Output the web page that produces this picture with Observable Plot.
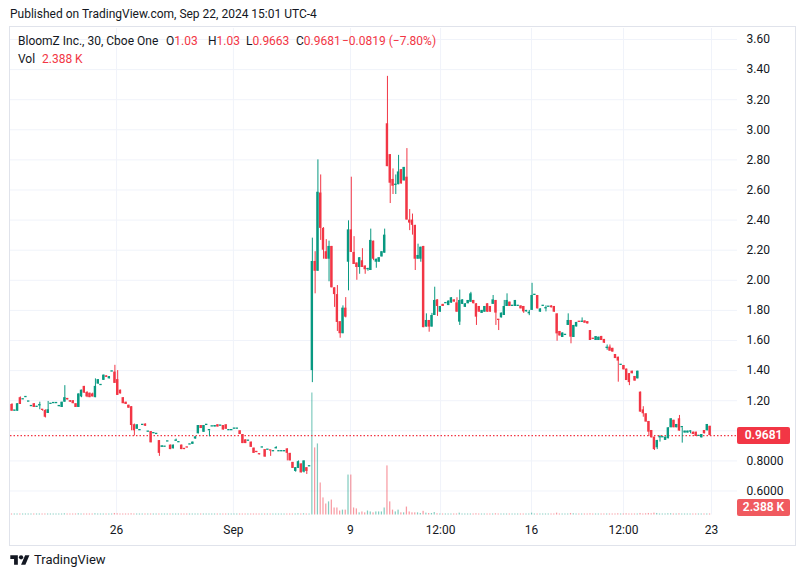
<!DOCTYPE html>
<html>
<head>
<meta charset="utf-8">
<script src="https://cdn.jsdelivr.net/npm/d3@7"></script>
<script src="https://cdn.jsdelivr.net/npm/@observablehq/plot@0.6"></script>
<style>
html,body{margin:0;padding:0;background:#fff;}
#wrap{position:relative;width:804px;height:578px;overflow:hidden;font-family:Roboto,"Noto Sans",sans-serif;color:#131722;}
#pub{position:absolute;left:10px;top:6px;font-size:12px;line-height:16px;white-space:nowrap;}
#frame{position:absolute;left:9px;top:26px;width:787px;height:520px;border:1px solid #e0e3eb;box-sizing:border-box;}
#chart{position:absolute;left:0;top:27px;}
.leg{position:absolute;font-size:12px;line-height:16px;white-space:nowrap;}
.r{color:#f23645;}
.badge{position:absolute;height:17px;line-height:17px;color:#fff;font-size:12px;font-weight:600;text-align:center;border-radius:2px;}
#foot{position:absolute;left:10px;top:552px;font-size:13px;line-height:16px;display:flex;align-items:center;gap:4px;white-space:nowrap;}
</style>
</head>
<body>
<div id="wrap">
  <div id="pub">Published on TradingView.com, Sep 22, 2024 15:01 UTC-4</div>
  <div id="frame"></div>
  <div id="chart"></div>
  <div class="leg" style="left:18px;top:33px">BloomZ Inc., 30, Cboe One</div>
  <div class="leg" style="left:166px;top:33px">O<span class="r">1.03</span></div>
  <div class="leg" style="left:208px;top:33px">H<span class="r">1.03</span></div>
  <div class="leg" style="left:246px;top:33px">L<span class="r">0.9663</span></div>
  <div class="leg" style="left:296px;top:33px">C<span class="r">0.9681</span></div>
  <div class="leg r" style="left:342px;top:33px">−0.0819 (−7.80%)</div>
  <div class="leg" style="left:18px;top:51px">Vol</div>
  <div class="leg r" style="left:42px;top:51px">2.388 K</div>
  <div id="foot">
    <svg width="20" height="14" viewBox="0 0 36 26"><path d="M14 22H7V11H0V4h14z" fill="#131722"/><circle cx="20" cy="8" r="4" fill="#131722"/><path d="M28 22h-8l7.5-18h8z" fill="#131722"/></svg>
    <span>TradingView</span>
  </div>
</div>
<script>
// ---- data (30-min bars, BloomZ Inc.) ----
const open = [
1.175,1.13,1.13,1.22,1.205,1.22,1.19,1.16,1.18,1.155,
1.165,1.14,1.135,1.115,1.175,1.18,1.18,1.16,1.155,1.19,
1.215,1.20,1.20,1.18,1.155,1.225,1.295,1.255,1.25,1.245,
1.22,1.31,1.30,1.335,1.365,1.345,1.39,1.39,1.34,1.27,
1.22,1.19,1.17,1.16,1.04,1.01,1.00,1.035,1.045,0.99,
0.995,0.98,0.975,0.935,0.89,0.89,0.925,0.905,0.88,0.93,
0.92,0.905,0.877,0.887,0.905,0.91,0.945,0.98,1.035,0.99,
1.035,1.00,1.025,1.025,1.04,1.03,1.035,1.04,1.00,1.00,
1.01,1.01,1.00,0.975,0.94,0.93,0.925,0.885,0.857,0.842,
0.885,0.875,0.87,0.867,0.86,0.88,0.86,0.86,0.86,0.88,
0.85,0.79,0.73,0.75,0.78,0.725,0.755,0.76,1.40,2.125,
2.06,2.58,2.345,2.19,2.14,2.225,1.95,1.905,1.725,1.645,
1.815,2.12,2.335,2.185,2.115,2.085,2.13,2.095,2.07,2.065,
2.26,2.12,2.12,2.155,2.18,3.04,2.835,2.67,2.63,2.635,
2.735,2.66,2.685,2.40,2.40,2.365,2.14,2.14,2.225,1.689,
1.733,1.689,1.766,1.870,1.788,1.840,1.844,1.832,1.848,1.870,
1.850,1.722,1.84,1.82,1.844,1.854,1.866,1.844,1.826,1.78,
1.788,1.844,1.826,1.840,1.866,1.735,1.750,1.766,1.826,1.855,
1.826,1.826,1.826,1.830,1.826,1.79,1.777,1.80,1.899,1.899,
1.788,1.826,1.810,1.82,1.830,1.826,1.777,1.66,1.62,1.633,
1.70,1.733,1.62,1.69,1.722,1.72,1.73,1.725,1.666,1.609,
1.60,1.60,1.627,1.607,1.547,1.556,1.548,1.507,1.489,1.434,
1.434,1.41,1.38,1.396,1.361,1.345,1.257,1.139,1.113,1.062,
1.002,0.958,0.887,0.953,0.953,0.936,0.947,1.020,1.070,1.020,
1.080,1.020,0.985,0.985,0.991,0.991,0.991,0.962,0.953,1.002,1.000,1.03];
const high = [
1.18,1.135,1.18,1.225,1.205,1.22,1.19,1.16,1.18,1.155,
1.19,1.14,1.14,1.195,1.175,1.18,1.18,1.165,1.19,1.30,
1.215,1.20,1.20,1.18,1.245,1.27,1.295,1.26,1.25,1.25,
1.345,1.34,1.30,1.37,1.365,1.36,1.39,1.435,1.40,1.27,
1.22,1.19,1.17,1.16,1.045,1.04,1.00,1.035,1.045,0.99,
0.995,0.98,0.975,0.935,0.90,0.89,0.925,0.905,0.905,0.945,
0.92,0.905,0.877,0.887,0.905,0.925,0.96,1.035,1.035,1.035,
1.035,1.00,1.025,1.035,1.04,1.03,1.035,1.04,1.00,1.00,
1.01,1.01,1.00,0.975,0.94,0.93,0.925,0.885,0.857,0.842,
0.885,0.875,0.87,0.867,0.86,0.895,0.86,0.86,0.86,0.88,
0.85,0.79,0.755,0.80,0.78,0.80,0.755,0.76,2.28,2.19,
2.80,2.70,2.35,2.27,2.26,2.225,1.95,1.965,1.725,1.83,
1.885,2.395,2.685,2.29,2.115,2.15,2.21,2.095,2.08,2.34,
2.26,2.14,2.15,2.19,2.34,3.355,2.835,2.74,2.70,2.83,
2.735,2.75,2.875,2.47,2.44,2.365,2.24,2.22,2.225,1.777,
1.733,1.78,1.954,1.870,1.826,1.840,1.844,1.862,1.884,1.870,
1.884,1.935,1.87,1.844,1.866,1.92,1.866,1.844,1.826,1.80,
1.826,1.844,1.826,1.899,1.866,1.735,1.782,1.866,1.910,1.855,
1.826,1.866,1.826,1.830,1.826,1.80,1.80,1.98,1.899,1.899,
1.810,1.826,1.83,1.82,1.830,1.826,1.777,1.66,1.65,1.633,
1.777,1.733,1.70,1.72,1.722,1.75,1.73,1.725,1.666,1.609,
1.626,1.622,1.627,1.607,1.57,1.57,1.548,1.507,1.489,1.434,
1.434,1.41,1.38,1.396,1.361,1.396,1.257,1.16,1.113,1.062,
1.002,0.958,0.936,0.969,0.953,0.958,1.020,1.080,1.070,1.042,
1.102,1.020,0.998,0.998,1.0,0.991,0.991,0.962,0.975,1.002,1.042,1.03];
const low = [
1.13,1.13,1.13,1.175,1.205,1.22,1.19,1.16,1.155,1.155,
1.14,1.13,1.085,1.115,1.175,1.18,1.18,1.16,1.155,1.19,
1.205,1.19,1.18,1.155,1.155,1.22,1.25,1.22,1.22,1.225,
1.22,1.31,1.30,1.335,1.355,1.345,1.39,1.315,1.235,1.245,
1.18,1.175,1.15,1.00,0.965,1.01,1.00,1.035,1.03,0.99,
0.92,0.98,0.975,0.83,0.89,0.89,0.925,0.875,0.88,0.93,
0.92,0.875,0.875,0.885,0.905,0.91,0.945,0.98,1.015,0.99,
1.035,0.96,1.025,1.025,1.025,1.03,1.005,1.01,1.00,1.00,
1.01,1.01,0.975,0.915,0.915,0.93,0.89,0.85,0.855,0.84,
0.885,0.825,0.87,0.83,0.86,0.88,0.86,0.86,0.86,0.80,
0.80,0.75,0.725,0.75,0.72,0.72,0.71,0.76,1.32,1.91,
2.06,2.265,2.14,2.14,1.99,1.95,1.82,1.66,1.615,1.645,
1.75,1.93,2.185,2.105,2.00,2.04,2.085,2.04,2.06,2.065,
2.13,2.08,2.12,2.155,2.18,2.755,2.51,2.57,2.57,2.635,
2.64,2.66,2.40,2.33,2.30,2.065,2.14,2.12,1.685,1.689,
1.655,1.689,1.766,1.760,1.788,1.826,1.844,1.832,1.848,1.855,
1.788,1.70,1.84,1.82,1.844,1.854,1.844,1.70,1.788,1.78,
1.788,1.788,1.788,1.840,1.700,1.666,1.750,1.766,1.826,1.826,
1.826,1.826,1.826,1.810,1.780,1.79,1.765,1.80,1.899,1.810,
1.788,1.826,1.79,1.82,1.817,1.788,1.595,1.63,1.62,1.633,
1.70,1.578,1.62,1.69,1.72,1.72,1.715,1.71,1.600,1.607,
1.60,1.60,1.60,1.58,1.535,1.529,1.523,1.480,1.323,1.434,
1.405,1.334,1.30,1.379,1.330,1.345,1.124,1.09,1.058,0.962,
0.953,0.869,0.875,0.925,0.953,0.936,0.947,1.020,1.020,1.020,
0.998,0.918,0.985,0.985,0.98,0.975,0.962,0.962,0.953,0.980,1.000,0.9663];
const close = [
1.13,1.13,1.18,1.175,1.205,1.22,1.19,1.16,1.155,1.155,
1.175,1.135,1.09,1.14,1.175,1.18,1.18,1.165,1.19,1.22,
1.205,1.19,1.18,1.155,1.245,1.27,1.25,1.225,1.22,1.225,
1.295,1.34,1.30,1.37,1.355,1.36,1.39,1.315,1.235,1.245,
1.18,1.175,1.15,1.035,1.00,1.04,1.00,1.035,1.03,0.99,
0.92,0.98,0.975,0.85,0.90,0.89,0.925,0.875,0.905,0.93,
0.92,0.875,0.875,0.885,0.905,0.925,0.96,1.035,1.015,1.035,
1.035,1.00,1.025,1.035,1.025,1.03,1.005,1.01,1.00,1.00,
1.01,1.01,0.975,0.915,0.915,0.93,0.89,0.85,0.855,0.84,
0.885,0.825,0.87,0.865,0.86,0.88,0.86,0.86,0.86,0.85,
0.80,0.75,0.755,0.795,0.72,0.80,0.73,0.76,2.125,2.06,
2.585,2.345,2.20,2.14,2.225,1.95,1.905,1.72,1.645,1.815,
1.755,2.335,2.185,2.105,2.085,2.15,2.085,2.07,2.075,2.265,
2.14,2.14,2.15,2.19,2.30,2.755,2.645,2.625,2.632,2.72,
2.64,2.75,2.40,2.38,2.365,2.14,2.165,2.22,1.685,1.733,
1.689,1.766,1.866,1.826,1.826,1.826,1.844,1.862,1.884,1.855,
1.788,1.866,1.87,1.844,1.866,1.910,1.844,1.755,1.788,1.80,
1.826,1.788,1.788,1.870,1.782,1.733,1.782,1.826,1.866,1.826,
1.826,1.866,1.826,1.810,1.790,1.80,1.788,1.899,1.899,1.810,
1.810,1.826,1.810,1.82,1.817,1.788,1.644,1.63,1.65,1.633,
1.733,1.622,1.70,1.72,1.72,1.72,1.715,1.71,1.600,1.607,
1.626,1.622,1.60,1.582,1.551,1.529,1.523,1.480,1.463,1.434,
1.405,1.334,1.32,1.379,1.330,1.396,1.124,1.113,1.058,0.991,
0.953,0.875,0.936,0.953,0.953,0.958,1.020,1.080,1.020,1.042,
0.998,1.020,0.998,0.998,0.991,0.975,0.962,0.962,0.975,0.980,1.042,0.9681];
// volume in thousands of shares
const volume = [
3,1,3,3,1,1,1,1,2,1, 2,1,3,3,1,1,1,1,2,4, 1,2,2,2,4,3,3,2,2,2,
4,3,1,3,1,1,1,5,4,2, 2,1,1,4,3,2,1,1,1,1, 3,1,1,3,1,1,1,2,2,1,
1,2,1,1,1,1,1,3,1,2, 1,1,1,1,1,1,2,2,1,1, 1,1,2,3,1,1,2,2,1,1,
1,2,1,1,1,1,1,1,1,3, 3,3,2,4,3,4,3,2,400,220,
233,105,56,36,43,49,23,23,13,16, 16,131,131,23,20,7,10,7,13,10,
7,10,10,10,23,161,43,16,10,16, 7,7,26,10,7,7,7,5,12,6,
5,5,8,4,3,2,2,3,3,2, 3,6,3,2,2,3,2,4,2,2, 2,3,2,3,4,3,2,3,3,2,
1,2,1,2,2,1,2,6,2,3, 2,1,1,1,2,3,6,3,3,2, 3,5,4,2,1,1,2,2,4,2,
2,2,2,2,1,2,2,3,4,1, 2,4,3,2,3,3,5,3,4,5, 4,6,5,3,2,2,4,4,3,2,
4,3,2,2,1,2,2,1,2,2,3,2.388];
const yTicks = [0.6,0.8,1.0,1.2,1.4,1.6,1.8,2.0,2.2,2.4,2.6,2.8,3.0,3.2,3.4,3.6];
// the 1.00 label is covered by the last-price badge in the reference
const yTickLabels = ["0.6000","0.8000","","1.20","1.40","1.60","1.80","2.00","2.20","2.40","2.60","2.80","3.00","3.20","3.40","3.60"];
const xTickPos = [37.6, 79.6, 121.7, 154.1, 186.8, 219.9, 251.5];
const xTickLabels = ["26","Sep","9","12:00","16","12:00","23"];

// ---- chart ----
const UP = "#089981", DOWN = "#f23645", GRID = "#f0f3fa";
const Y0 = 0.4405, Y1 = 3.673;
const H = 519, mTop = 1, mBottom = 31.5;
const pxPerUnit = (H - mTop - mBottom) / (Y1 - Y0);
const minBody = 1.3 / pxPerUnit;
const volPx = 122 / 400; // pixels per thousand shares
const volTop = v => Y0 + Math.max(v * volPx, 1) / pxPerUnit;

const bars = open.map((o, i) => ({
  i, o, c: close[i], v: volume[i],
  h: Math.max(high[i], o, close[i]),
  l: Math.min(low[i], o, close[i]),
  up: close[i] >= o
}));
const ups = bars.filter(d => d.up), downs = bars.filter(d => !d.up);
const yLab = new Map(yTicks.map((t, k) => [t, yTickLabels[k]]));
const yAxisTicks = yTicks.filter(t => yLab.get(t) !== "");
const xLab = new Map(xTickPos.map((t, k) => [t, xTickLabels[k]]));
const bodyLo = d => Math.min(d.o, d.c);
const bodyHi = d => Math.max(Math.max(d.o, d.c), Math.min(d.o, d.c) + minBody);
const HW = 0.43, VW = 0.22;

const chart = Plot.plot({
  width: 804, height: H,
  marginLeft: 10, marginRight: 67, marginTop: mTop, marginBottom: mBottom,
  style: {background: "transparent", fontFamily: "Roboto, 'Noto Sans', sans-serif", fontSize: "12px", color: "#131722", overflow: "visible"},
  x: {type: "linear", domain: [-0.54, 260.87], axis: null},
  y: {type: "linear", domain: [Y0, Y1], axis: null},
  marks: [
    Plot.gridY(yTicks, {stroke: GRID, strokeOpacity: 1}),
    Plot.gridX(xTickPos, {stroke: GRID, strokeOpacity: 1}),
    Plot.axisY(yAxisTicks, {anchor: "right", tickSize: 0, tickPadding: 9, tickFormat: d => yLab.get(d), label: null, fontSize: 12}),
    Plot.axisX(xTickPos, {anchor: "bottom", tickSize: 0, tickPadding: 10, tickFormat: d => xLab.get(d), label: null, fontSize: 12}),
    Plot.rect(ups, {x1: d => d.i - VW, x2: d => d.i + VW, y1: d => Y0, y2: d => volTop(d.v), fill: UP, fillOpacity: 0.5}),
    Plot.rect(downs, {x1: d => d.i - VW, x2: d => d.i + VW, y1: d => Y0, y2: d => volTop(d.v), fill: DOWN, fillOpacity: 0.5}),
    Plot.ruleY([close[close.length - 1]], {stroke: DOWN, strokeWidth: 1.2, strokeDasharray: "1.5,2"}),
    Plot.ruleX(ups, {x: "i", y1: "l", y2: "h", stroke: UP, strokeWidth: 1}),
    Plot.ruleX(downs, {x: "i", y1: "l", y2: "h", stroke: DOWN, strokeWidth: 1}),
    Plot.rect(ups, {x1: d => d.i - HW, x2: d => d.i + HW, y1: bodyLo, y2: bodyHi, fill: UP}),
    Plot.rect(downs, {x1: d => d.i - HW, x2: d => d.i + HW, y1: bodyLo, y2: bodyHi, fill: DOWN})
  ]
});
document.getElementById("chart").appendChild(chart);

// price / volume badges on the right scale
const ys = chart.scale("y");
const top0 = 27;
const last = bars[bars.length - 1];
const wrap = document.getElementById("wrap");
function badge(text, yc, bg) {
  const b = document.createElement("div");
  b.className = "badge";
  b.textContent = text;
  b.style.left = "737px"; b.style.width = "53px";
  b.style.top = (top0 + yc - 8.5) + "px";
  b.style.background = bg;
  wrap.appendChild(b);
}
badge("0.9681", ys.apply(last.c), DOWN);
const plotBottom = H - mBottom;
badge("2.388 K", Math.min(ys.apply(volTop(last.v)), plotBottom - 7), "#f05a5f");
</script>
</body>
</html>
